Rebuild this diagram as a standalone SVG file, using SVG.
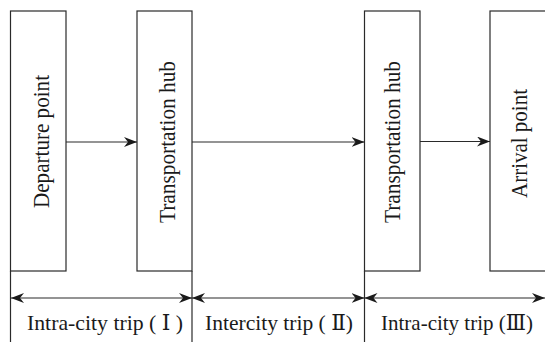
<svg xmlns="http://www.w3.org/2000/svg" width="545" height="342" viewBox="0 0 545 342">
  <style>
    .box { fill: #ffffff; stroke: #2a2a2a; stroke-width: 1.2; }
    .ln { fill: none; stroke: #2a2a2a; stroke-width: 1.2; }
    .lbl { font-family: 'Liberation Serif', 'DejaVu Serif', serif; font-size: 23px; fill: #1a1a1a; text-anchor: middle; }
    .seg { font-size: 22px; }
  </style>
  <defs>
    <marker id="ah" viewBox="0 0 13 10" refX="13" refY="5" markerWidth="13" markerHeight="10" markerUnits="userSpaceOnUse" orient="auto-start-reverse">
      <path d="M0,0 L13,5 L0,10 L4,5 z" fill="#1a1a1a"/>
    </marker>
  </defs>
  <rect width="545" height="342" fill="#ffffff"/>

  <g id="departure">
    <rect class="box" x="10.5" y="11" width="55.5" height="260"/>
    <text class="lbl" transform="translate(48.5,141.5) rotate(-90)" textLength="133" lengthAdjust="spacingAndGlyphs">Departure point</text>
  </g>
  <g id="hub1">
    <rect class="box" x="137" y="11" width="55" height="260"/>
    <text class="lbl" transform="translate(175,142) rotate(-90)" textLength="162" lengthAdjust="spacingAndGlyphs">Transportation hub</text>
  </g>
  <g id="hub2">
    <rect class="box" x="364.5" y="11" width="55.5" height="260"/>
    <text class="lbl" transform="translate(400,142) rotate(-90)" textLength="162" lengthAdjust="spacingAndGlyphs">Transportation hub</text>
  </g>
  <g id="arrival">
    <rect class="box" x="490" y="11" width="70" height="260"/>
    <text class="lbl" transform="translate(526.5,143.5) rotate(-90)" textLength="109" lengthAdjust="spacingAndGlyphs">Arrival point</text>
  </g>

  <g id="connectors">
    <line class="ln" x1="66" y1="142" x2="137" y2="142" marker-end="url(#ah)"/>
    <line class="ln" x1="192" y1="142" x2="364.5" y2="142" marker-end="url(#ah)"/>
    <line class="ln" x1="420" y1="141.5" x2="490" y2="141.5" marker-end="url(#ah)"/>
  </g>

  <g id="dimensions">
    <line class="ln" x1="10.5" y1="271" x2="10.5" y2="342"/>
    <line class="ln" x1="192" y1="271" x2="192" y2="342"/>
    <line class="ln" x1="364.5" y1="271" x2="364.5" y2="342"/>
    <line class="ln" x1="11" y1="298" x2="192" y2="298" marker-start="url(#ah)" marker-end="url(#ah)"/>
    <line class="ln" x1="192" y1="298" x2="364.5" y2="298" marker-start="url(#ah)" marker-end="url(#ah)"/>
    <line class="ln" x1="364.5" y1="298" x2="545" y2="298" marker-start="url(#ah)" marker-end="url(#ah)"/>
    <text class="lbl seg" x="105" y="330" textLength="156" lengthAdjust="spacingAndGlyphs">Intra-city trip ( Ⅰ )</text>
    <text class="lbl seg" x="279" y="330" textLength="148" lengthAdjust="spacingAndGlyphs">Intercity trip ( Ⅱ)</text>
    <text class="lbl seg" x="457" y="330" textLength="152" lengthAdjust="spacingAndGlyphs">Intra-city trip (Ⅲ)</text>
  </g>
</svg>
